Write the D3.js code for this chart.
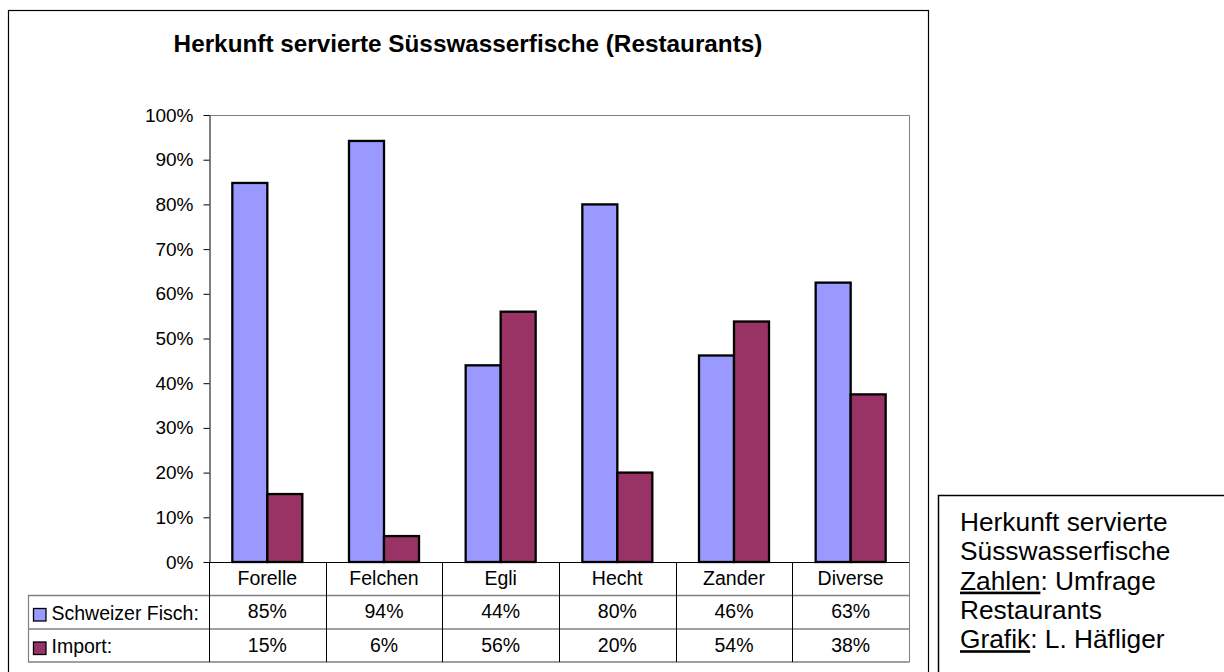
<!DOCTYPE html>
<html>
<head>
<meta charset="utf-8">
<script src="https://cdn.jsdelivr.net/npm/d3@7"></script>
<style>
  html, body { margin: 0; padding: 0; background: #fff; }
  svg { display: block; }
  text { font-family: "Liberation Sans", Arial, sans-serif; fill: #000; }
</style>
</head>
<body>
<svg id="chart" width="1224" height="672"></svg>
<script>
const titleText = "Herkunft servierte Süsswasserfische (Restaurants)";
const categories = ["Forelle", "Felchen", "Egli", "Hecht", "Zander", "Diverse"];
const seriesNames = ["Schweizer Fisch:", "Import:"];
const swissValues = [0.848, 0.942, 0.44, 0.80, 0.462, 0.625];
const importValues = [0.152, 0.058, 0.56, 0.20, 0.538, 0.375];
const yTickValues = [0, 0.1, 0.2, 0.3, 0.4, 0.5, 0.6, 0.7, 0.8, 0.9, 1.0];
const seriesColors = ["#9999FF", "#993366"];
const noteLines = [
  [{t: "Herkunft servierte"}],
  [{t: "Süsswasserfische"}],
  [{t: "Zahlen", u: true}, {t: ": Umfrage"}],
  [{t: "Restaurants"}],
  [{t: "Grafik", u: true}, {t: ": L. Häfliger"}]
];

const svg = d3.select("#chart");
const series = [swissValues, importValues];

// Outer chart frame
svg.append("rect").attr("x", 8.5).attr("y", 10.5).attr("width", 920).attr("height", 700)
  .attr("fill", "#fff").attr("stroke", "#000").attr("stroke-width", 1.2);

// Title
svg.append("text").attr("x", 468).attr("y", 52).attr("text-anchor", "middle")
  .style("font-size", "24.3px").style("font-weight", "bold").text(titleText);

const plot = {left: 209, right: 909, top: 115, bottom: 562};
const x = d3.scaleBand().domain(categories).range([plot.left, plot.right]).padding(0);
const y = d3.scaleLinear().domain([0, 1]).range([plot.bottom, plot.top]);
const barW = x.bandwidth() * 0.3;
const groupOff = (x.bandwidth() - 2 * barW) / 2;

// Plot area border (top & right gray)
svg.append("path")
  .attr("d", `M${plot.left},${plot.top + 0.5}H${plot.right + 0.5}V${plot.bottom}`)
  .attr("fill", "none").attr("stroke", "#808080").attr("stroke-width", 1);

// Y axis
const yAxis = d3.axisLeft(y).tickValues(yTickValues).tickFormat(d3.format(".0%"))
  .tickSize(6).tickSizeOuter(0).tickPadding(10);
const gy = svg.append("g").attr("transform", `translate(${plot.left + 0.5},0)`).call(yAxis);
gy.select(".domain").attr("stroke", "#000");
gy.selectAll(".tick line").attr("stroke", "#000");
gy.selectAll(".tick text").style("font-size", "19px")
  .style("font-family", "'Liberation Sans', Arial, sans-serif").attr("fill", "#000");

// Bars
series.forEach((vals, si) => {
  svg.append("g").selectAll("rect").data(vals).join("rect")
    .attr("x", (d, i) => x(categories[i]) + groupOff + si * barW)
    .attr("y", d => y(d))
    .attr("width", barW)
    .attr("height", d => y(0) - y(d))
    .attr("fill", seriesColors[si])
    .attr("stroke", "#000").attr("stroke-width", 2.3);
});

// X axis line
svg.append("line").attr("x1", plot.left).attr("x2", plot.right + 0.5)
  .attr("y1", plot.bottom + 0.5).attr("y2", plot.bottom + 0.5)
  .attr("stroke", "#000").attr("stroke-width", 1.2);

// Data table
const rowEdges = [562, 595.5, 629, 662];
const tableLeft = 28;
const gt = svg.append("g");
[rowEdges[1], rowEdges[2], rowEdges[3]].forEach(yy => {
  gt.append("line").attr("x1", tableLeft).attr("x2", plot.right + 0.5)
    .attr("y1", yy).attr("y2", yy).attr("stroke", "#808080").attr("stroke-width", 1.5);
});
gt.append("line").attr("x1", tableLeft + 0.5).attr("x2", tableLeft + 0.5)
  .attr("y1", rowEdges[1]).attr("y2", rowEdges[3]).attr("stroke", "#808080").attr("stroke-width", 1.2);
const bounds = categories.map(c => x(c)).concat([plot.right]);
gt.selectAll("line.v").data(bounds).join("line").attr("class", "v")
  .attr("x1", d => Math.round(d) + 0.5).attr("x2", d => Math.round(d) + 0.5)
  .attr("y1", rowEdges[0]).attr("y2", rowEdges[3])
  .attr("stroke", (d, i) => i === bounds.length - 1 ? "#808080" : "#000").attr("stroke-width", 1);

gt.selectAll("text.cat").data(categories).join("text").attr("class", "cat")
  .attr("x", d => x(d) + x.bandwidth() / 2).attr("y", 584.5)
  .attr("text-anchor", "middle").style("font-size", "19.5px").text(d => d);

const rowBaselines = [618, 651.5];
series.forEach((vals, si) => {
  gt.append("g").selectAll("text").data(vals).join("text")
    .attr("x", (d, i) => x(categories[i]) + x.bandwidth() / 2)
    .attr("y", rowBaselines[si]).attr("text-anchor", "middle")
    .style("font-size", "19.5px").text(d => Math.round(d * 100) + "%");
  gt.append("rect").attr("x", 33.5).attr("y", rowBaselines[si] - 9.5)
    .attr("width", 12.5).attr("height", 12.5)
    .attr("fill", seriesColors[si]).attr("stroke", "#000").attr("stroke-width", 1.3);
  gt.append("text").attr("x", 51.5).attr("y", rowBaselines[si] + 1.5)
    .style("font-size", "19.5px").text(seriesNames[si]);
});

// Note box
svg.append("rect").attr("x", 938.5).attr("y", 495.5).attr("width", 320).attr("height", 200)
  .attr("fill", "#fff").attr("stroke", "#000").attr("stroke-width", 1.5);
const note = svg.append("text").style("font-size", "26.3px");
noteLines.forEach((parts, li) => {
  parts.forEach((p, pi) => {
    const ts = note.append("tspan").text(p.t);
    if (pi === 0) ts.attr("x", 960).attr("y", 531 + li * 29.3);
    if (p.u) ts.style("text-decoration", "underline");
  });
});
</script>
</body>
</html>
